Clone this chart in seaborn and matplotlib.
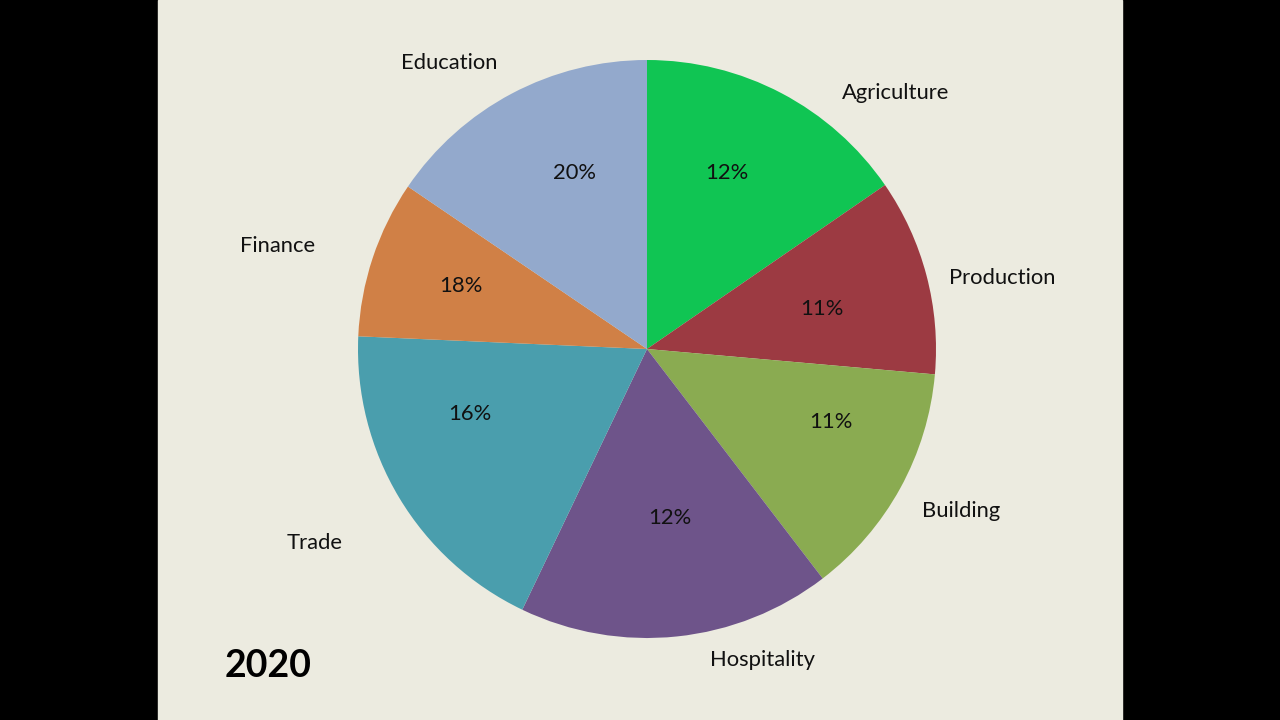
import matplotlib
matplotlib.use("Agg")
import matplotlib.pyplot as plt
import seaborn as sns
import numpy as np

sns.set_theme(style="white")
plt.rcParams['font.family'] = ['Lato', 'DejaVu Sans']

# Data (slice shares as drawn, and the percentage labels shown)
categories = ["Agriculture", "Production", "Building", "Hospitality", "Trade", "Finance", "Education"]
slice_shares = [15.4, 11.0, 13.2, 17.5, 18.6, 8.8, 15.5]
pct_labels = ["12%", "11%", "11%", "12%", "16%", "18%", "20%"]
year = "2020"

colors = ["#10C553", "#9C3A42", "#8AAB51", "#6E548A", "#4A9EAD", "#D08046", "#93A9CC"]

# Layout (pixel positions of text, y measured from the top)
center_px = (647, 349)
radius_px = 289
cat_pos = [(896, 91), (1002, 276), (961, 509), (763, 658), (315, 541), (278, 244), (449, 61)]
pct_pos = [(727, 171), (822, 307), (831, 420), (670, 516), (470, 412), (461, 284), (574, 171)]
text_dy = 2

W, H = 1280, 720
fig = plt.figure(figsize=(12.8, 7.2), dpi=100, facecolor="black")
ax = fig.add_axes([0, 0, 1, 1])

# beige panel
ax.add_patch(plt.Rectangle((158, 0), 1122 - 158, H, color="#ECEBE0", zorder=0))

ax.pie(slice_shares, colors=colors, startangle=90, counterclock=False,
       center=(center_px[0], H - center_px[1]), radius=radius_px,
       wedgeprops=dict(linewidth=0), frame=False)
ax.set_xlim(0, W)
ax.set_ylim(0, H)
ax.set_aspect("equal")
ax.axis("off")

for name, (x, y) in zip(categories, cat_pos):
    ax.text(x, H - y - text_dy, name, ha="center", va="center", fontsize=15.8, color="#111111")
for p, (x, y) in zip(pct_labels, pct_pos):
    ax.text(x, H - y - text_dy, p, ha="center", va="center", fontsize=15.8, color="#111111")

ax.text(268, H - 664 - text_dy, year, ha="center", va="center", fontsize=27, fontweight="bold", color="black")

fig.savefig("out.png", dpi=100, facecolor="black")
